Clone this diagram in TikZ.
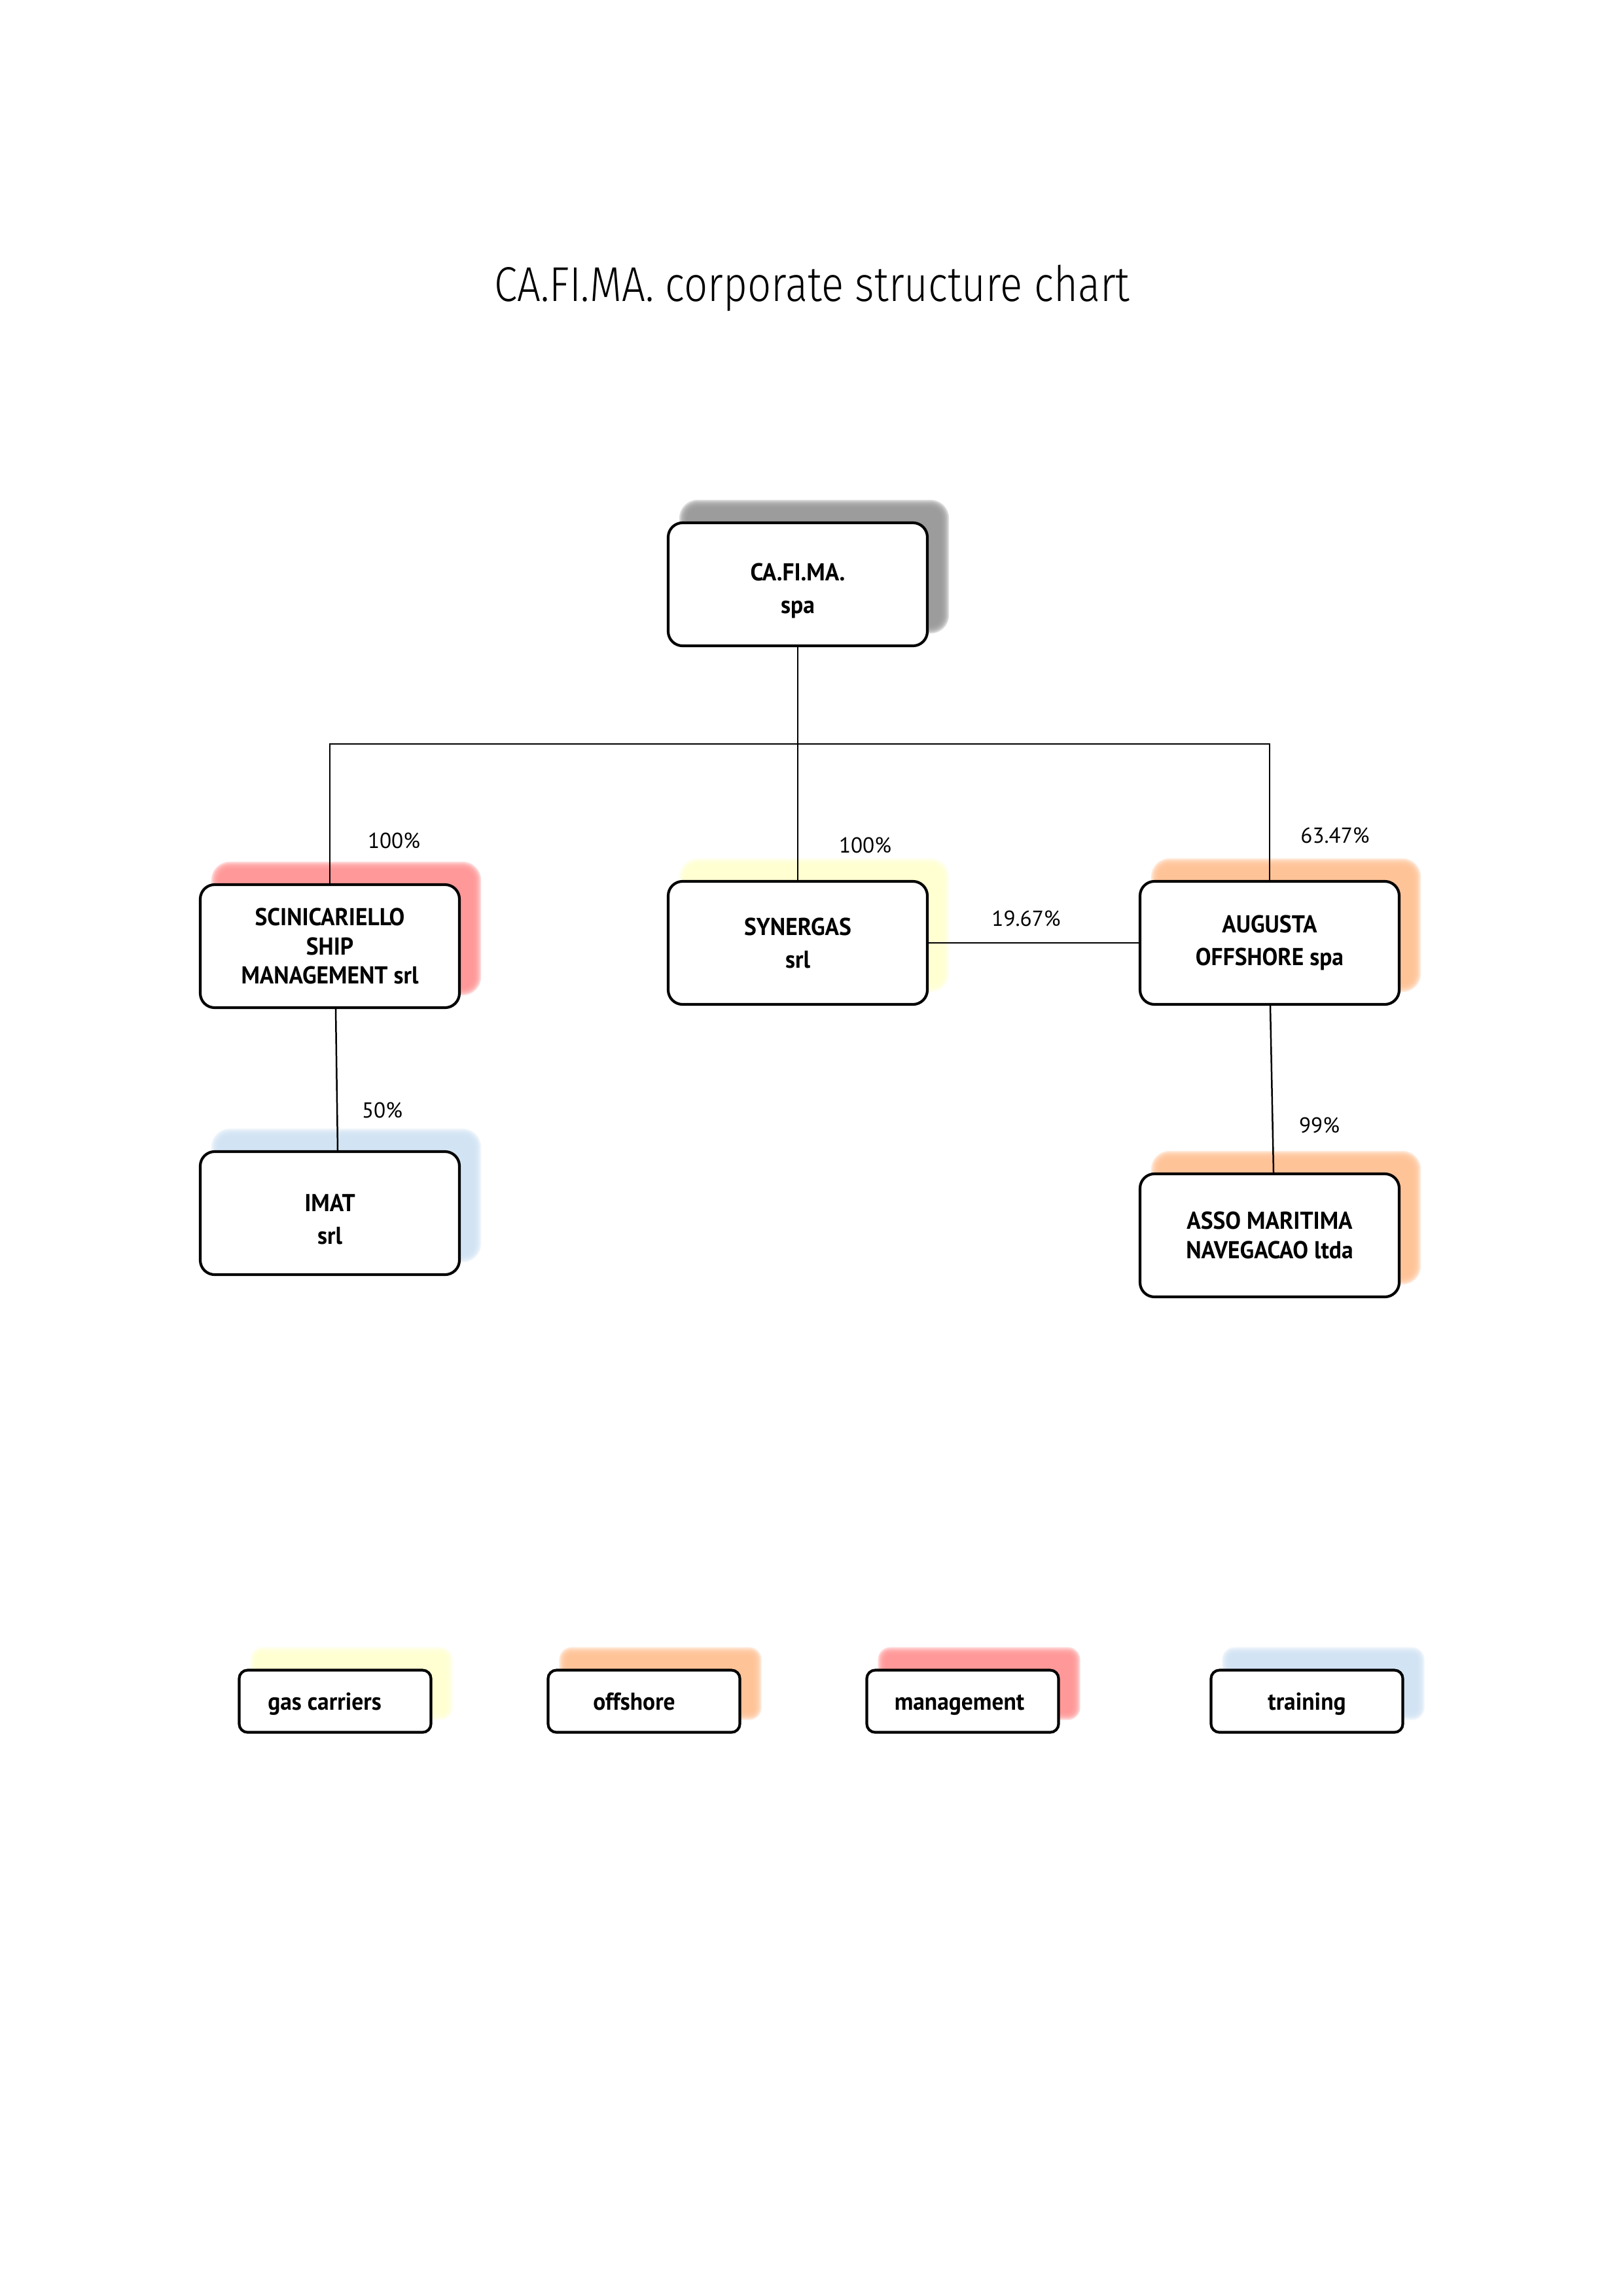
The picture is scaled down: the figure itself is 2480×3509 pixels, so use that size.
\documentclass[tikz,border=0pt]{standalone}
\usepackage{fontspec}
\setmainfont{PT Sans}
\newfontfamily\boxfont{PT Sans}[FakeStretch=0.95]
\newfontfamily\titlefont{Fira Sans Light}[FakeStretch=0.85]
\usetikzlibrary{calc,backgrounds}
\definecolor{shgray}{HTML}{999999}
\definecolor{shred}{HTML}{FF9595}
\definecolor{shorange}{HTML}{FFC295}
\definecolor{shyellow}{HTML}{FFFFD0}
\definecolor{shblue}{HTML}{D2E4F4}
\tikzset{
  company/.style={draw=black, line width=1pt, fill=white, rounded corners=5.3pt,
    minimum width=95.4pt, minimum height=45.3pt, inner sep=0pt, align=center,
    font=\boxfont\bfseries\fontsize{9}{12}\selectfont},
  legendbox/.style={draw=black, line width=1pt, fill=white, rounded corners=3.1pt,
    minimum width=70.6pt, minimum height=22.9pt, inner sep=0pt,
    text height=6.4pt, text depth=0pt,
    font=\boxfont\bfseries\fontsize{9}{11}\selectfont},
  conn/.style={line width=0.6pt, black},
  pct/.style={font=\fontsize{8}{10}\selectfont, inner sep=0pt},
  titletext/.style={font=\titlefont\fontsize{18}{22}\selectfont, inner sep=0pt}
}
% blurred offset shadow behind a named node: node, colour, base radius (px)
\newcommand\boxshadow[3]{%
  \foreach \e in {6,4,...,-6}{%
    \pgfmathsetmacro\rr{(#3+\e)*0.2409}%
    \fill[#2, fill opacity=0.36, rounded corners=\rr pt]
      ($(#1.north west)+(25-\e,-27-\e)$) rectangle ($(#1.south east)+(25+\e,-27+\e)$);
  }}
\begin{document}
\begin{tikzpicture}[x=0.2409pt, y=-0.2409pt]
\useasboundingbox (0,0) rectangle (2480,3509);

% title
\node[titletext, anchor=base] (title) at (1241,460) {CA.FI.MA. corporate structure chart};

% companies
\node[company] (cafima) at (1219,893) {\rule{0pt}{11pt}CA.FI.MA.\\spa};
\node[company, font=\boxfont\bfseries\fontsize{9}{10.8}\selectfont] (scin) at (504,1446) {SCINICARIELLO\\SHIP\\MANAGEMENT srl};
\node[company] (syn) at (1219,1441) {SYNERGAS\\srl};
\node[company] (aug) at (1940,1441) {AUGUSTA\\OFFSHORE spa};
\node[company] (imat) at (504,1854) {\rule{0pt}{11pt}IMAT\\srl};
\node[company, font=\boxfont\bfseries\fontsize{9}{10.8}\selectfont] (asso) at (1940,1888) {ASSO MARITIMA\\NAVEGACAO ltda};

% connectors
\coordinate (bus) at (1219,1137);
\draw[conn] (cafima.south) -- (syn.north);
\draw[conn] (scin.north) |- (bus) -| (aug.north);
\draw[conn] (syn.east) -- (aug.west);
\draw[conn] ($(scin.south)+(9,0)$) -- ($(imat.north)+(12,0)$);
\draw[conn] ($(aug.south)+(1,0)$) -- ($(asso.north)+(6,0)$);

% percentages
\node[pct] (p1) at (602,1285) {100\%};
\node[pct] (p2) at (1322,1292) {100\%};
\node[pct] (p3) at (2040,1277) {63.47\%};
\node[pct] (p4) at (1568,1404) {19.67\%};
\node[pct] (p5) at (584,1697) {50\%};
\node[pct] (p6) at (2016,1720) {99\%};

% legend
\node[legendbox] (lgas) at (512,2600) {gas carriers\hspace*{7.7pt}};
\node[legendbox] (loff) at (984,2600) {offshore\hspace*{7.2pt}};
\node[legendbox] (lman) at (1471,2600) {management\hspace*{2.4pt}};
\node[legendbox] (ltra) at (1997,2600) {training};

\begin{scope}[on background layer]
  \fill[white] (0,0) rectangle (2480,3509);
  \boxshadow{cafima}{shgray}{22}
  \boxshadow{scin}{shred}{22}
  \boxshadow{syn}{shyellow}{22}
  \boxshadow{aug}{shorange}{22}
  \boxshadow{imat}{shblue}{22}
  \boxshadow{asso}{shorange}{22}
  \boxshadow{lgas}{shyellow}{13}
  \boxshadow{loff}{shorange}{13}
  \boxshadow{lman}{shred}{13}
  \boxshadow{ltra}{shblue}{13}
\end{scope}
\end{tikzpicture}
\end{document}
